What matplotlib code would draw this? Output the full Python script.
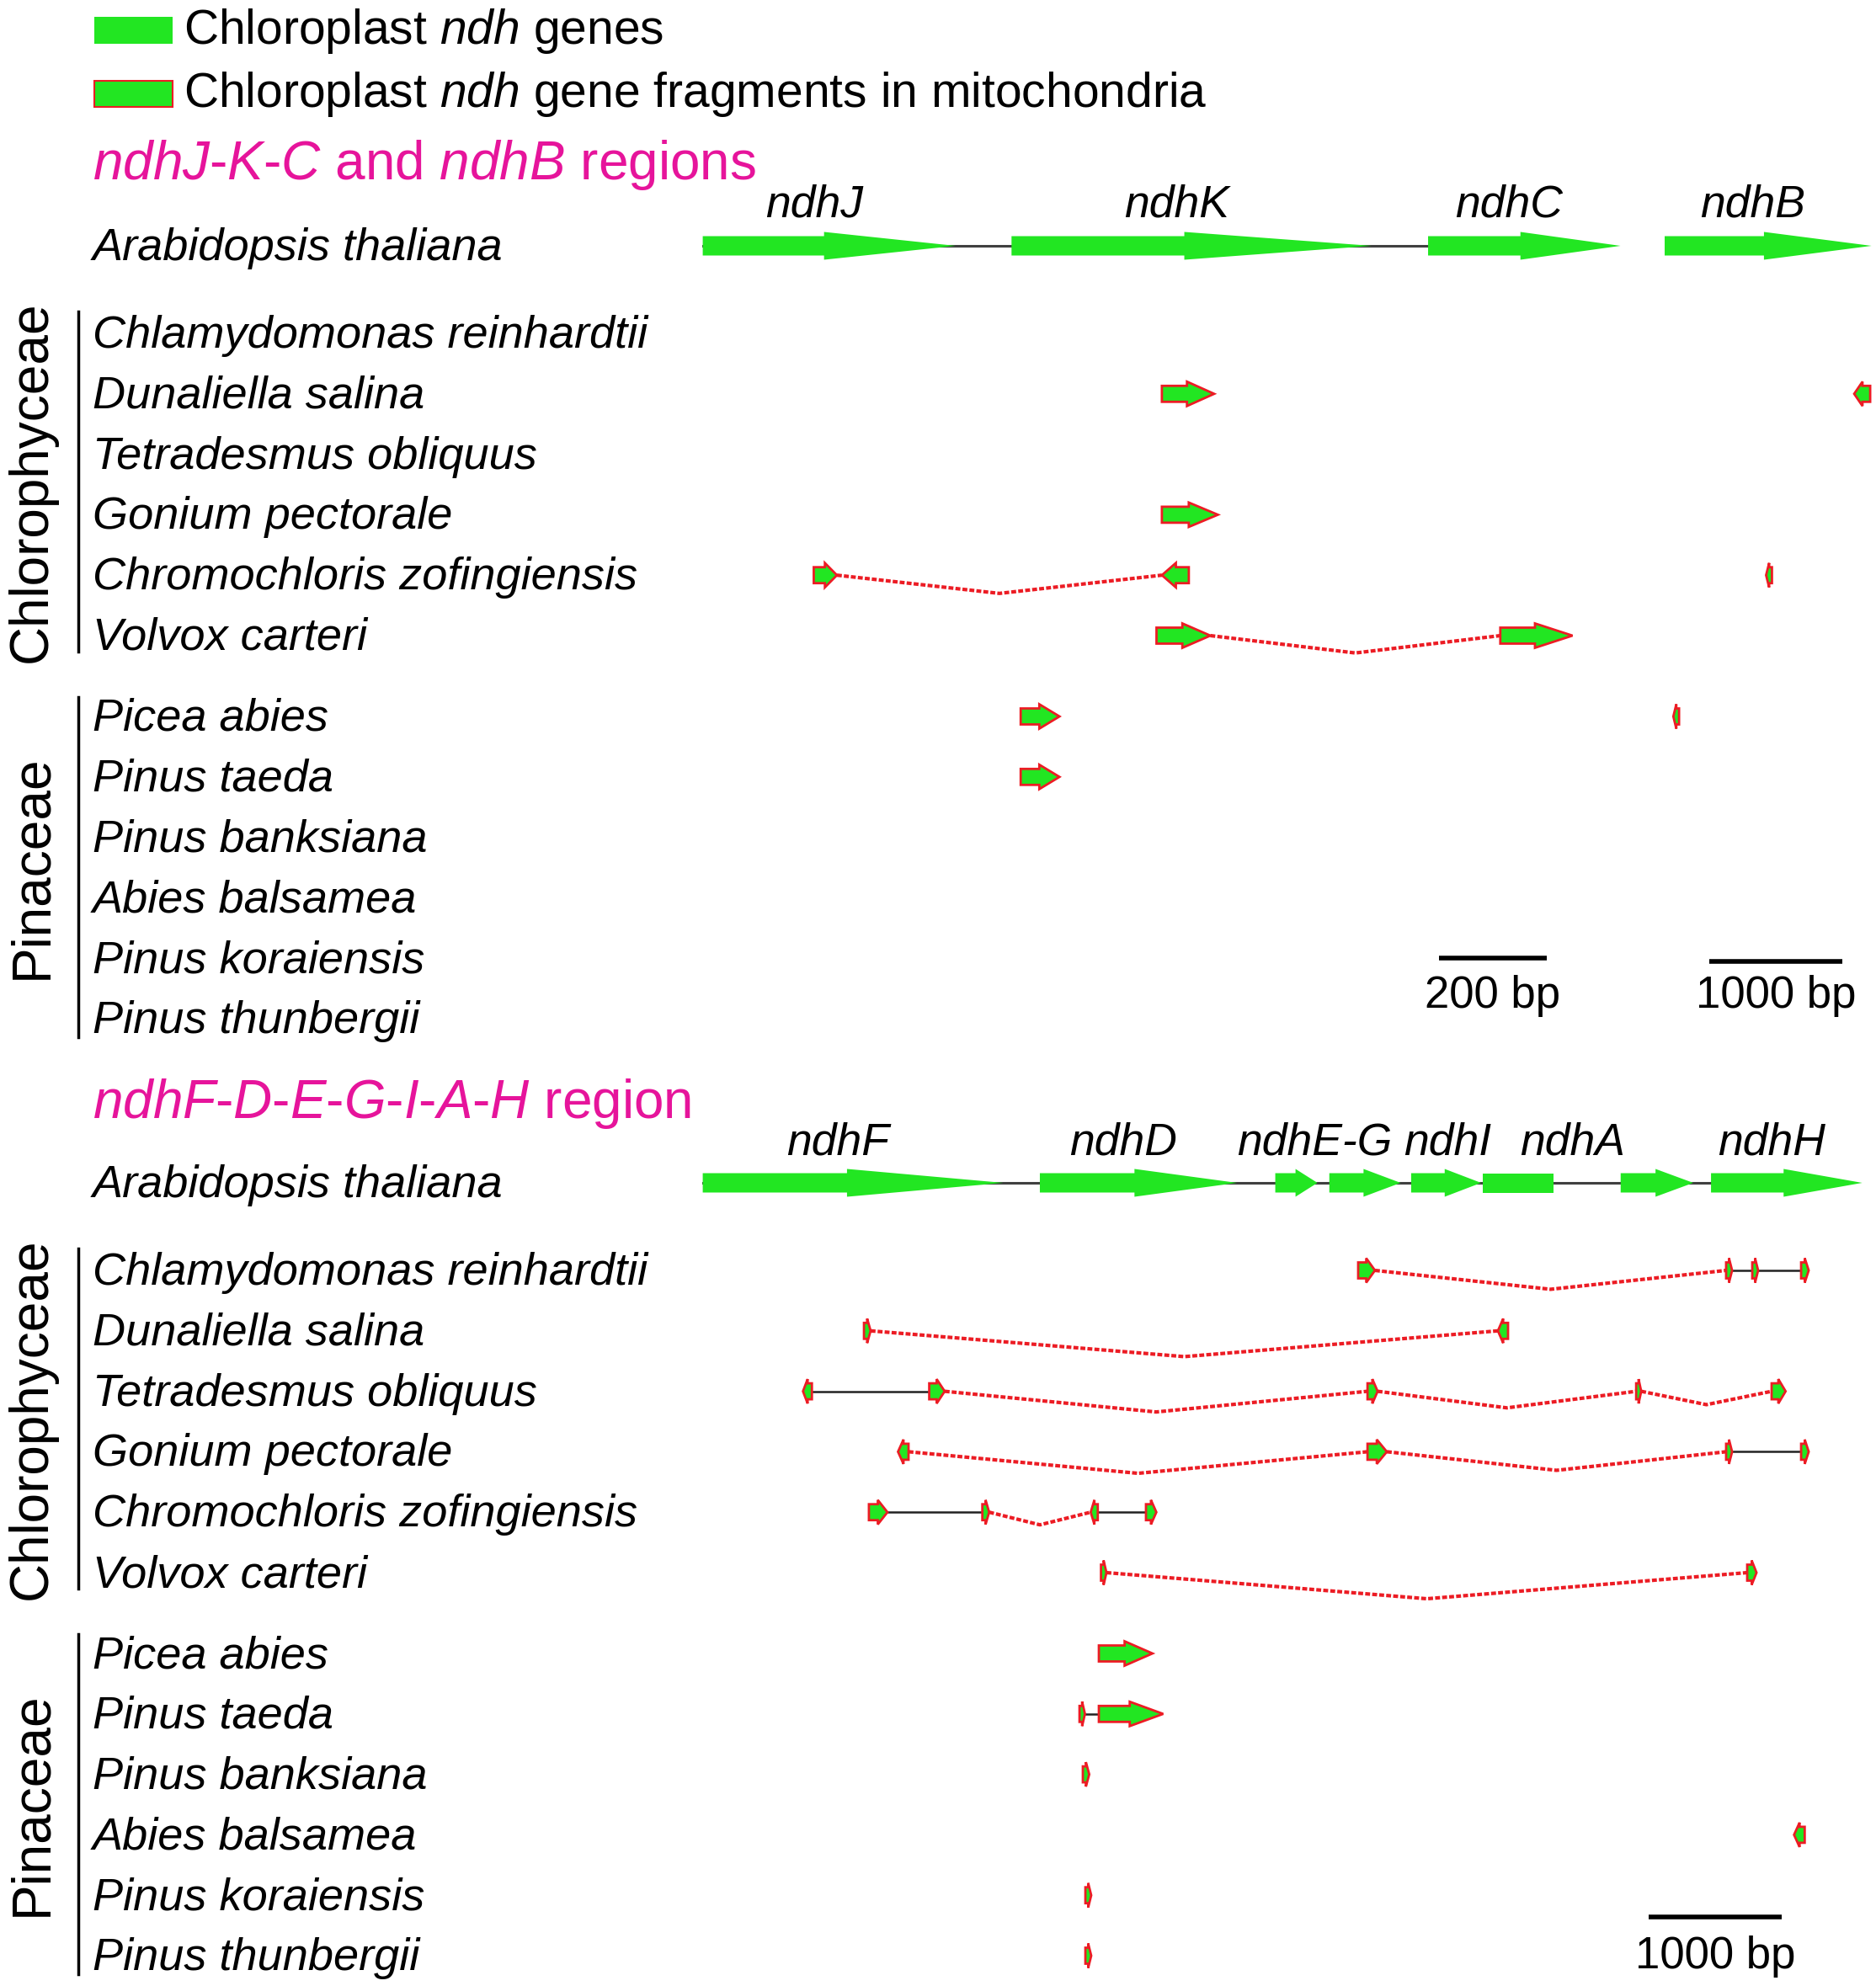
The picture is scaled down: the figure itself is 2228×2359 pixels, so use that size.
import matplotlib
matplotlib.use('Agg')
import matplotlib.pyplot as plt
from matplotlib.patches import Polygon, Rectangle

plt.rcParams['font.family'] = ['Liberation Sans', 'DejaVu Sans']
plt.rcParams['mathtext.fontset'] = 'custom'
plt.rcParams['mathtext.it'] = 'Liberation Sans:italic'
plt.rcParams['mathtext.rm'] = 'Liberation Sans'

# ---------------- data (positions in bp) ----------------
species_chl = ['Chlamydomonas reinhardtii', 'Dunaliella salina', 'Tetradesmus obliquus',
               'Gonium pectorale', 'Chromochloris zofingiensis', 'Volvox carteri']
species_pin = ['Picea abies', 'Pinus taeda', 'Pinus banksiana', 'Abies balsamea',
               'Pinus koraiensis', 'Pinus thunbergii']

# Arabidopsis thaliana chloroplast genes: (name, start, end, shape)
jkc_genes = [('ndhJ', 0, 469, 'arrow'), ('ndhK', 573, 1241, 'arrow'), ('ndhC', 1346, 1703, 'arrow')]
b_genes = [('ndhB', 0, 1550, 'arrow')]
fdh_genes = [('ndhF', 0, 2252, 'arrow'), ('ndhD', 2526, 4003, 'arrow'), ('ndhE', 4290, 4606, 'arrow'),
             ('ndhG', 4695, 5229, 'arrow'), ('ndhI', 5308, 5832, 'arrow'), ('ndhA', 5845, 6372, 'box'),
             ('ndhA', 6878, 7422, 'arrow'), ('ndhH', 7555, 8688, 'arrow')]

jkc_labels = [('ndhJ', ['ndhJ']), ('ndhK', ['ndhK']), ('ndhC', ['ndhC'])]
b_labels = [('ndhB', ['ndhB'])]
fdh_labels = [('ndhF', ['ndhF']), ('ndhD', ['ndhD']), ('ndhE-G', ['ndhE', 'ndhG']),
              ('ndhI', ['ndhI']), ('ndhA', ['ndhA']), ('ndhH', ['ndhH'])]

# mitochondrial fragments: (start, end, strand)
jkc_frag = {
    'Dunaliella salina': [(852, 949, 1)],
    'Gonium pectorale': [(852, 956, 1)],
    'Chromochloris zofingiensis': [(206, 249, 1), (852, 902, -1)],
    'Volvox carteri': [(842, 942, 1), (1480, 1614, 1)],
    'Picea abies': [(590, 662, 1)],
    'Pinus taeda': [(590, 662, 1)],
}
jkc_links = {
    'Chromochloris zofingiensis': ['dash'],
    'Volvox carteri': ['dash'],
}
b_frag = {
    'Dunaliella salina': [(1420, 1540, -1)],
    'Chromochloris zofingiensis': [(760, 804, -1)],
    'Picea abies': [(65, 108, -1)],
}
b_links = {}

fdh_frag = {
    'Chlamydomonas reinhardtii': [(4911, 5037, 1), (7668, 7713, 1), (7864, 7908, 1), (8230, 8287, 1)],
    'Dunaliella salina': [(1208, 1258, 1), (5958, 6034, -1)],
    'Tetradesmus obliquus': [(751, 818, -1), (1697, 1813, 1), (4981, 5057, 1), (6994, 7032, 1), (8009, 8114, 1)],
    'Gonium pectorale': [(1463, 1542, -1), (4981, 5126, 1), (7668, 7713, 1), (8230, 8287, 1)],
    'Chromochloris zofingiensis': [(1245, 1384, 1), (2095, 2146, 1), (2907, 2960, -1), (3321, 3399, 1)],
    'Volvox carteri': [(2984, 3025, 1), (7826, 7896, 1)],
    'Picea abies': [(2968, 3370, 1)],
    'Pinus taeda': [(2823, 2864, 1), (2968, 3450, 1)],
    'Pinus banksiana': [(2848, 2896, 1)],
    'Abies balsamea': [(8177, 8257, -1)],
    'Pinus koraiensis': [(2867, 2911, 1)],
    'Pinus thunbergii': [(2867, 2911, 1)],
}
fdh_links = {
    'Chlamydomonas reinhardtii': ['dash', 'line', 'line'],
    'Dunaliella salina': ['dash'],
    'Tetradesmus obliquus': ['line', 'dash', 'dash', 'dash'],
    'Gonium pectorale': ['dash', 'dash', 'line'],
    'Chromochloris zofingiensis': ['line', 'dash', 'line'],
    'Volvox carteri': ['dash'],
    'Pinus taeda': ['line'],
}

# ---------------- style ----------------
GREEN = '#22e622'
RED = '#ec1c24'
MAGENTA = '#e6149b'
FIG_W, FIG_H = 2228, 2359
label_nudge = {'ndhE-G': -28, 'ndhI': 2}   # pixel nudges for crowded gene names

fig = plt.figure(figsize=(FIG_W / 100, FIG_H / 100), dpi=100)


def overlay(x0_px, px_per_bp):
    # full-figure axes; y in pixels, x in bp
    a = fig.add_axes([0, 0, 1, 1])
    a.set_xlim(-x0_px / px_per_bp, (FIG_W - x0_px) / px_per_bp)
    a.set_ylim(FIG_H, 0)
    a.axis('off')
    a.patch.set_alpha(0)
    return a


ax = overlay(0, 1)
ax_jkc = overlay(834.6, 0.64)
ax_b = overlay(1977, 0.1585)
ax_fdh = overlay(834.6, 0.1585)


def arrow(a, s, e, strand, y, body, head, face, edge=None, lw=0, shape='arrow'):
    if shape == 'box':
        pts = [(s, y - body / 2), (e, y - body / 2), (e, y + body / 2), (s, y + body / 2)]
    else:
        L = e - s
        if strand > 0:
            m = s + L * 0.48
            pts = [(s, y - body / 2), (m, y - body / 2), (m, y - head / 2), (e, y),
                   (m, y + head / 2), (m, y + body / 2), (s, y + body / 2)]
        else:
            m = e - L * 0.48
            pts = [(e, y - body / 2), (m, y - body / 2), (m, y - head / 2), (s, y),
                   (m, y + head / 2), (m, y + body / 2), (e, y + body / 2)]
    p = Polygon(pts, closed=True, facecolor=face, edgecolor=edge if edge else 'none',
                linewidth=lw, joinstyle='miter', zorder=4, clip_on=False)
    a.add_patch(p)


def row_positions(y_ref):
    pos = {'Arabidopsis thaliana': y_ref}
    for i, sp in enumerate(species_chl):
        pos[sp] = y_ref + 104 + i * 71.8
    for i, sp in enumerate(species_pin):
        pos[sp] = y_ref + 559 + i * 71.8
    return pos


def draw_reference(a, genes, labels, y, label_dy):
    if len(genes) > 1:
        a.plot([genes[0][1], genes[-1][1]], [y, y], color='#404040', lw=2.2, zorder=2)
    for name, s, e, shape in genes:
        arrow(a, s, e, 1, y, 23, 33, GREEN, shape=shape)
    for lab, members in labels:
        xs = [v for g in genes if g[0] in members for v in (g[1], g[2])]
        cx = (min(xs) + max(xs)) / 2
        a.annotate(lab, xy=(cx, y + label_dy), xytext=(label_nudge.get(lab, -18), 0),
                   textcoords='offset pixels', ha='center', va='baseline',
                   style='italic', fontsize=38.5)


def draw_fragments(a, frags, links, pos):
    for sp, fl in frags.items():
        y = pos[sp]
        lk = links.get(sp, [])
        for i in range(len(fl) - 1):
            x1 = fl[i][1]
            x2 = fl[i + 1][0]
            if lk[i] == 'line':
                a.plot([x1, x2], [y, y], color='#222222', lw=1.8, zorder=3)
            else:
                px = a.transData.transform([(x1, 0), (x2, 0)])[:, 0]
                depth = 12 + 0.025 * (px[1] - px[0])
                xm = (x1 + x2) / 2
                a.plot([x1, xm, x2], [y, y + depth, y], color=RED, lw=3.0,
                       linestyle=(0, (1.4, 0.6)), zorder=3)
        for s, e, strand in fl:
            arrow(a, s, e, strand, y, 19, 29, GREEN, RED, 2.0)


def draw_names(y_ref):
    pos = row_positions(y_ref)
    for sp, y in pos.items():
        ax.text(110, y + 17, sp, style='italic', fontsize=39, va='baseline')
    # group brackets
    ax.plot([93, 93], [y_ref + 78, y_ref + 482], color='k', lw=2.5)
    ax.plot([93, 93], [y_ref + 536, y_ref + 940], color='k', lw=2.5)
    ax.text(38, y_ref + 280, 'Chlorophyceae', rotation=90, fontsize=46, ha='center', va='center')
    ax.text(38, y_ref + 738, 'Pinaceae', rotation=90, fontsize=46, ha='center', va='center')
    return pos


def scale_bar(a, x0, length, y, text_y):
    a.plot([x0, x0 + length], [y, y], color='k', lw=4, solid_capstyle='butt')
    a.text(x0 + length / 2, text_y, f'{length} bp', ha='center', va='baseline', fontsize=38)


# ---------------- legend ----------------
ax.add_patch(Rectangle((112, 20), 93, 32, facecolor=GREEN, edgecolor='none'))
ax.add_patch(Rectangle((112, 96), 93, 31, facecolor=GREEN, edgecolor=RED, lw=1.5))
ax.text(218, 52, 'Chloroplast $ndh$ genes', fontsize=41, va='baseline')
ax.text(218, 127, 'Chloroplast $ndh$ gene fragments in mitochondria', fontsize=41, va='baseline')

# ---------------- top panel: ndhJ-K-C and ndhB ----------------
TOP = 292
ax.text(110, 213, '$ndhJ$-$K$-$C$ and $ndhB$ regions', fontsize=46, color=MAGENTA, va='baseline')
pos_top = draw_names(TOP)
draw_reference(ax_jkc, jkc_genes, jkc_labels, TOP, -34)
draw_reference(ax_b, b_genes, b_labels, TOP, -34)
draw_fragments(ax_jkc, jkc_frag, jkc_links, pos_top)
draw_fragments(ax_b, b_frag, b_links, pos_top)
scale_bar(ax_jkc, 1366, 200, 1138, 1197)
scale_bar(ax_b, 333, 1000, 1142, 1197)

# ---------------- bottom panel: ndhF-D-E-G-I-A-H ----------------
BOT = 1405
ax.text(110, 1328, '$ndhF$-$D$-$E$-$G$-$I$-$A$-$H$ region', fontsize=46, color=MAGENTA, va='baseline')
pos_bot = draw_names(BOT)
draw_reference(ax_fdh, fdh_genes, fdh_labels, BOT, -33)
draw_fragments(ax_fdh, fdh_frag, fdh_links, pos_bot)
scale_bar(ax_fdh, 7085, 1000, 2277, 2338)

fig.savefig('out.png', dpi=100, facecolor='white')
